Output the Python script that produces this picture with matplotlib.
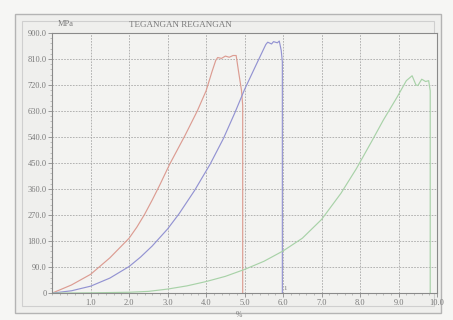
import matplotlib
matplotlib.use("Agg")
import matplotlib.pyplot as plt
from matplotlib.patches import Rectangle
from matplotlib.ticker import MultipleLocator

# regangan (%) / tegangan (MPa) untuk tiga spesimen
red_x = [0, 0.5, 1.0, 1.5, 2.0, 2.2, 2.4, 2.6, 2.8, 3.05, 3.45, 3.77, 4.0, 4.15,
         4.25, 4.3, 4.4, 4.5, 4.6, 4.7, 4.78, 4.85, 4.92, 4.95, 4.95]
red_y = [0, 28, 65, 122, 190, 228, 272, 322, 375, 445, 545, 630, 700, 765,
         805, 815, 812, 820, 816, 822, 822, 760, 700, 650, 0]

blue_x = [0, 0.5, 1.0, 1.5, 2.0, 2.3, 2.6, 3.0, 3.3, 3.7, 4.1, 4.45, 4.75, 5.0,
          5.3, 5.55, 5.6, 5.7, 5.75, 5.85, 5.9, 5.95, 5.98, 5.98]
blue_y = [0, 8, 24, 52, 92, 125, 163, 222, 275, 355, 445, 535, 625, 705,
          790, 860, 868, 862, 870, 866, 872, 840, 800, 0]

green_x = [0, 1.0, 2.0, 2.5, 3.0, 3.5, 4.0, 4.5, 5.0, 5.5, 6.0, 6.5, 7.0, 7.5,
           7.9, 8.3, 8.6, 8.96, 9.2, 9.35, 9.45, 9.5, 9.6, 9.7, 9.78, 9.82, 9.82]
green_y = [0, 1, 3, 6, 14, 25, 40, 58, 82, 110, 146, 190, 255, 345,
           430, 525, 598, 678, 735, 752, 720, 718, 740, 732, 735, 700, 0]

y_ticks = [90, 180, 270, 360, 450, 540, 630, 720, 810, 900]
x_ticks = [1, 2, 3, 4, 5, 6, 7, 8, 9, 10]

txt = "#7a7a7a"
font = ["Liberation Serif", "DejaVu Serif"]

fig = plt.figure(figsize=(4.53, 3.2), dpi=100, facecolor="#f6f6f4")

# bingkai layar (di belakang axes)
fig.patches.append(Rectangle((0.033, 0.022), 0.94, 0.934, transform=fig.transFigure,
                             facecolor="#efefed", edgecolor="#b4b4b4", lw=1.0, zorder=-2))
fig.patches.append(Rectangle((0.049, 0.045), 0.91, 0.89, transform=fig.transFigure,
                             facecolor="none", edgecolor="#cfcfcf", lw=0.8, zorder=-1))

ax = fig.add_axes([0.115, 0.084, 0.85, 0.813])
ax.set_facecolor("#f3f3f1")

ax.plot(red_x, red_y, color="#dc9c92", lw=0.85)
ax.plot(blue_x, blue_y, color="#9393d2", lw=0.85)
ax.plot(green_x, green_y, color="#a8d2a8", lw=0.85)

ax.set_xlim(0, 10)
ax.set_ylim(0, 900)
ax.set_xticks(x_ticks)
ax.set_xticklabels([f"{v:.1f}" for v in x_ticks])
ax.set_yticks([0] + y_ticks)
ax.set_yticklabels(["0"] + [f"{v:.1f}" for v in y_ticks])
ax.xaxis.set_minor_locator(MultipleLocator(0.2))
ax.yaxis.set_minor_locator(MultipleLocator(18))

ax.grid(True, which="major", color="#a8a8a8", lw=0.6, ls=(0, (2, 1.5)))
ax.tick_params(which="major", length=3, width=0.6, color="#8a8a8a", labelsize=6,
               labelcolor=txt, pad=1)
ax.tick_params(which="minor", length=1.5, width=0.5, color="#a8a8a8")
for lab in ax.get_xticklabels() + ax.get_yticklabels():
    lab.set_family(font)
for s in ax.spines.values():
    s.set_color("#8a8a8a")
    s.set_linewidth(0.8)

fig.text(0.128, 0.918, "MPa", fontsize=6, color=txt, family=font)
fig.text(0.285, 0.915, "TEGANGAN REGANGAN", fontsize=6.5, color=txt, family=font)
fig.text(0.528, 0.008, "%", fontsize=5.5, color=txt, family=font, ha="center")
ax.text(6.02, 12, "1", fontsize=5, color=txt, family=font)

fig.savefig("out.png", dpi=100, facecolor=fig.get_facecolor())
